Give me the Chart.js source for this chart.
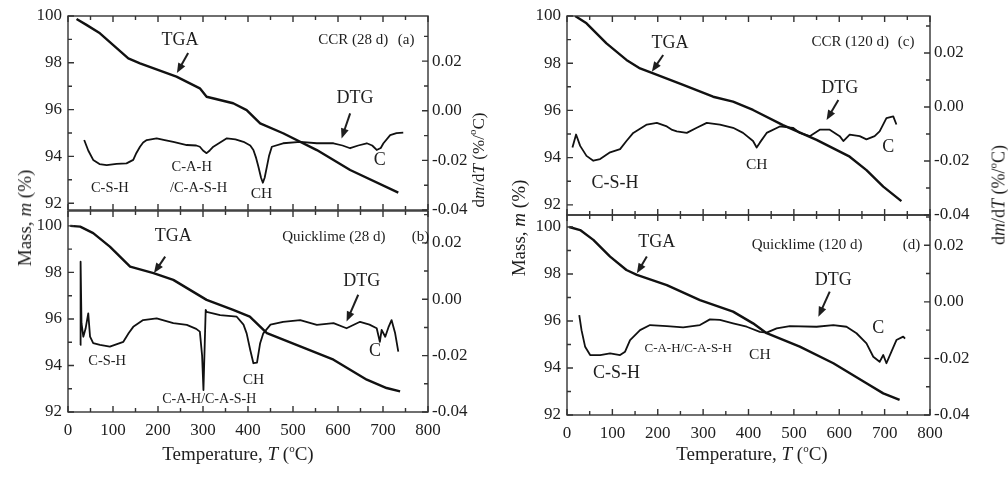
<!DOCTYPE html>
<html>
<head>
<meta charset="utf-8">
<script src="https://cdn.jsdelivr.net/npm/chart.js@4.4.0/dist/chart.umd.min.js"></script>
<style>
  body { margin: 0; background: #fff; }
  #wrap { position: relative; width: 1008px; height: 481px; overflow: hidden; font-family: 'Liberation Serif', serif; color: #1e1e1e; }
  canvas { position: absolute; }
  .ttl { position: absolute; white-space: nowrap; transform: translate(-50%, -50%); font-size: 19px; }
  .rot { transform: translate(-50%, -50%) rotate(-90deg); }
  sup { font-size: 11px; vertical-align: 8px; }
</style>
</head>
<body>
<div id="wrap">
  <canvas id="pa" width="480" height="214" style="left:0;top:0"></canvas>
  <canvas id="pb" width="480" height="276" style="left:0;top:205px"></canvas>
  <canvas id="pc" width="508" height="219" style="left:500px;top:0"></canvas>
  <canvas id="pd" width="508" height="271" style="left:500px;top:210px"></canvas>
  <div class="ttl rot" style="left:25px;top:218px">Mass, <i>m</i> (%)</div>
  <div class="ttl rot" style="left:519px;top:228px">Mass, <i>m</i> (%)</div>
  <div class="ttl rot" style="left:477px;top:160px;font-size:17px">d<i>m</i>/d<i>T</i> (%/<sup>o</sup>C)</div>
  <div class="ttl rot" style="left:998px;top:195px;font-size:18px">d<i>m</i>/d<i>T</i> (%/<sup>o</sup>C)</div>
  <div class="ttl" style="left:238px;top:453px">Temperature, <i>T</i> (<sup>o</sup>C)</div>
  <div class="ttl" style="left:752px;top:453px">Temperature, <i>T</i> (<sup>o</sup>C)</div>
</div>
<script>
// tick labels
const tempTicks = [0, 100, 200, 300, 400, 500, 600, 700, 800];
const massTicks = [92, 94, 96, 98, 100];
const dtgTicks = [-0.04, -0.02, 0.00, 0.02];

// (a) CCR 28 d
const tgaTempA = [19, 41, 71, 134, 160, 241, 293, 308, 367, 397, 427, 478, 553, 627, 734];
const tgaMassA = [99.87, 99.62, 99.26, 98.19, 97.98, 97.41, 96.91, 96.55, 96.27, 95.98, 95.41, 94.99, 94.27, 93.42, 92.45];
const dtgTempA = [36, 45, 56, 70, 86, 108, 130, 145, 152, 160, 167, 175, 197, 215, 234, 264, 285, 293, 300, 308, 315, 323, 353, 372, 390, 405, 412, 418, 423, 429, 433, 437, 442, 447, 453, 478, 516, 553, 590, 610, 627, 645, 664, 676, 686, 695, 701, 716, 730, 745];
const dtgRateA = [-0.0118, -0.016, -0.0198, -0.0215, -0.0219, -0.0214, -0.0212, -0.0198, -0.017, -0.0145, -0.0128, -0.0118, -0.0111, -0.0118, -0.0125, -0.0138, -0.014, -0.0145, -0.016, -0.0171, -0.016, -0.0145, -0.0111, -0.0115, -0.0125, -0.014, -0.0158, -0.019, -0.0225, -0.027, -0.029, -0.027, -0.0225, -0.018, -0.0145, -0.0131, -0.0125, -0.0131, -0.0131, -0.014, -0.0151, -0.014, -0.0131, -0.014, -0.0158, -0.015, -0.0131, -0.0098, -0.009, -0.0088];

// (b) Quicklime 28 d
const tgaTempB = [5, 27, 56, 93, 138, 190, 234, 308, 367, 404, 442, 516, 590, 664, 708, 738];
const tgaMassB = [100.0, 99.97, 99.69, 99.11, 98.25, 97.97, 97.68, 96.82, 96.39, 96.1, 95.39, 94.82, 94.25, 93.39, 93.03, 92.89];
const dtgTempB = [27, 28, 30, 34, 39, 45, 49, 56, 71, 93, 123, 135, 145, 167, 197, 234, 264, 285, 293, 298, 301, 304, 306, 308, 338, 375, 390, 397, 405, 412, 420, 427, 434, 450, 478, 516, 553, 590, 619, 649, 670, 686, 693, 697, 705, 712, 719, 727, 734];
const dtgRateB = [-0.0162, 0.0133, -0.0085, -0.0133, -0.0105, -0.005, -0.0133, -0.0156, -0.0162, -0.0168, -0.0151, -0.012, -0.0098, -0.0074, -0.0068, -0.0085, -0.0091, -0.0105, -0.0115, -0.02, -0.0322, -0.015, -0.0038, -0.0045, -0.0056, -0.0062, -0.009, -0.0121, -0.018, -0.0227, -0.0225, -0.0156, -0.0121, -0.009, -0.008, -0.0074, -0.0091, -0.0085, -0.0103, -0.008, -0.009, -0.0103, -0.0151, -0.0109, -0.0133, -0.01, -0.0074, -0.0121, -0.0186];

// (c) CCR 120 d
const tgaTempC = [18, 43, 87, 131, 161, 190, 256, 322, 366, 410, 476, 550, 623, 660, 697, 737];
const tgaMassC = [100.0, 99.69, 98.84, 98.14, 97.78, 97.57, 97.08, 96.58, 96.37, 96.02, 95.38, 94.75, 94.04, 93.47, 92.77, 92.16];
const dtgTempC = [12, 20, 29, 43, 58, 73, 95, 117, 131, 146, 176, 198, 220, 232, 242, 264, 286, 308, 337, 366, 388, 410, 418, 425, 440, 469, 498, 513, 535, 557, 579, 601, 609, 623, 645, 660, 678, 689, 704, 719, 726];
const dtgRateC = [-0.015, -0.0102, -0.0144, -0.0181, -0.0199, -0.0193, -0.0168, -0.0156, -0.0126, -0.0096, -0.0065, -0.0059, -0.0072, -0.0085, -0.009, -0.0096, -0.0077, -0.0059, -0.0065, -0.0077, -0.0096, -0.0126, -0.015, -0.0132, -0.0096, -0.0072, -0.0077, -0.0096, -0.0108, -0.0084, -0.0084, -0.0108, -0.0126, -0.0102, -0.0108, -0.012, -0.0108, -0.009, -0.0041, -0.0035, -0.0065];

// (d) Quicklime 120 d
const tgaTempD = [5, 29, 58, 95, 131, 154, 220, 293, 366, 410, 440, 513, 587, 660, 697, 733];
const tgaMassD = [100.0, 99.87, 99.45, 98.74, 98.17, 97.96, 97.53, 96.89, 96.4, 95.9, 95.48, 94.91, 94.2, 93.35, 92.92, 92.64];
const dtgTempD = [27, 32, 40, 51, 73, 95, 117, 128, 139, 161, 183, 220, 256, 293, 315, 337, 366, 396, 425, 440, 462, 491, 550, 587, 616, 638, 660, 675, 689, 697, 704, 715, 726, 741, 745];
const dtgRateD = [-0.0047, -0.01, -0.0159, -0.0188, -0.0188, -0.0182, -0.0188, -0.0176, -0.0135, -0.01, -0.0082, -0.0086, -0.009, -0.0082, -0.0062, -0.0064, -0.0076, -0.0088, -0.0106, -0.0109, -0.0094, -0.0086, -0.0088, -0.0082, -0.0088, -0.0111, -0.0147, -0.0194, -0.0212, -0.0188, -0.0217, -0.0176, -0.0135, -0.0123, -0.013];

const ink = '#1e1e1e';
const serif = "'Liberation Serif', serif";

function pairs(xs, ys) {
  return xs.map((x, i) => ({ x: x, y: ys[i] }));
}

// frame, inward ticks and the text/arrow notes
function decor(notes) {
  return {
    id: 'decor',
    afterDatasetsDraw(chart) {
      const { ctx, chartArea: a, scales } = chart;
      const x = scales.x, yl = scales.y, yr = scales.y2;
      ctx.save();
      ctx.strokeStyle = '#333';
      ctx.lineWidth = 1.4;
      ctx.strokeRect(a.left, a.top, a.right - a.left, a.bottom - a.top);
      ctx.beginPath();
      for (let v = 0; v <= 800; v += 50) {
        const p = x.getPixelForValue(v), len = v % 100 === 0 ? 6 : 4;
        ctx.moveTo(p, a.bottom); ctx.lineTo(p, a.bottom - len);
        ctx.moveTo(p, a.top); ctx.lineTo(p, a.top + len);
      }
      for (let v = Math.ceil(yl.min); v <= yl.max + 1e-6; v++) {
        const p = yl.getPixelForValue(v), len = v % 2 === 0 ? 6 : 4;
        ctx.moveTo(a.left, p); ctx.lineTo(a.left + len, p);
      }
      for (let k = Math.ceil(yr.min * 100 - 1e-6); k <= yr.max * 100 + 1e-6; k++) {
        const p = yr.getPixelForValue(k / 100), len = k % 2 === 0 ? 6 : 4;
        ctx.moveTo(a.right, p); ctx.lineTo(a.right - len, p);
      }
      ctx.stroke();

      ctx.fillStyle = ink;
      ctx.strokeStyle = ink;
      ctx.textBaseline = 'middle';
      notes.forEach(n => {
        if (n.arrow) {
          const x1 = x.getPixelForValue(n.arrow[0]), y1 = yl.getPixelForValue(n.arrow[1]);
          const x2 = x.getPixelForValue(n.arrow[2]), y2 = yl.getPixelForValue(n.arrow[3]);
          const ang = Math.atan2(y2 - y1, x2 - x1);
          ctx.lineWidth = 2;
          ctx.beginPath();
          ctx.moveTo(x1, y1);
          ctx.lineTo(x2 - 7 * Math.cos(ang), y2 - 7 * Math.sin(ang));
          ctx.stroke();
          ctx.beginPath();
          ctx.moveTo(x2, y2);
          ctx.lineTo(x2 - 10 * Math.cos(ang) + 4 * Math.sin(ang), y2 - 10 * Math.sin(ang) - 4 * Math.cos(ang));
          ctx.lineTo(x2 - 10 * Math.cos(ang) - 4 * Math.sin(ang), y2 - 10 * Math.sin(ang) + 4 * Math.cos(ang));
          ctx.closePath();
          ctx.fill();
        } else {
          ctx.font = (n.size || 18) + 'px ' + serif;
          ctx.textAlign = n.align || 'center';
          ctx.fillText(n.text, x.getPixelForValue(n.t), yl.getPixelForValue(n.m));
        }
      });
      ctx.restore();
    }
  };
}

// no extra room for half-labels at the ends; layout padding places the plot
function noPad(s) {
  s.paddingTop = 0;
  s.paddingBottom = 0;
}

function panel(id, o) {
  const tickFont = { family: serif, size: 17 };
  new Chart(document.getElementById(id), {
    type: 'line',
    data: {
      datasets: [
        { data: pairs(o.tgaT, o.tgaM), yAxisID: 'y', borderWidth: 2.4 },
        { data: pairs(o.dtgT, o.dtgR), yAxisID: 'y2', borderWidth: 1.8 }
      ]
    },
    options: {
      responsive: false,
      animation: false,
      events: [],
      layout: { padding: { top: o.padTop, bottom: o.padBottom, left: 0, right: 0 } },
      elements: {
        point: { radius: 0 },
        line: { borderColor: '#111', tension: 0, fill: false, borderJoinStyle: 'round' }
      },
      plugins: { legend: { display: false }, tooltip: { enabled: false } },
      scales: {
        x: {
          type: 'linear', min: 0, max: 800, display: o.showX,
          grid: { display: false, drawTicks: false }, border: { display: false },
          ticks: { font: tickFont, color: ink, padding: 8, maxRotation: 0 },
          afterBuildTicks: s => { s.ticks = tempTicks.map(v => ({ value: v })); },
          afterFit: s => { s.height = o.xHeight; s.paddingLeft = 0; s.paddingRight = 0; }
        },
        y: {
          type: 'linear', position: 'left', min: o.mMin, max: o.mMax,
          grid: { display: false, drawTicks: false }, border: { display: false },
          ticks: { font: tickFont, color: ink, padding: 6 },
          afterBuildTicks: s => { s.ticks = massTicks.filter(v => v >= s.min - 1e-6 && v <= s.max + 1e-6).map(v => ({ value: v })); },
          afterFit: s => { s.width = o.leftW; noPad(s); }
        },
        y2: {
          type: 'linear', position: 'right', min: o.rMin, max: o.rMax,
          grid: { display: false, drawTicks: false }, border: { display: false },
          ticks: { font: tickFont, color: ink, padding: 4, callback: v => v.toFixed(2) },
          afterBuildTicks: s => { s.ticks = dtgTicks.filter(v => v >= s.min - 1e-6 && v <= s.max + 1e-6).map(v => ({ value: v })); },
          afterFit: s => { s.width = o.rightW; noPad(s); }
        }
      }
    },
    plugins: [decor(o.notes)]
  });
}

panel('pa', {
  tgaT: tgaTempA, tgaM: tgaMassA, dtgT: dtgTempA, dtgR: dtgRateA,
  mMin: 91.71, mMax: 100, rMin: -0.04, rMax: 0.0382,
  padTop: 16, padBottom: 4, showX: false, xHeight: 0, leftW: 68, rightW: 52,
  notes: [
    { text: 'TGA', t: 249, m: 98.97 },
    { arrow: [267, 98.42, 242, 97.56] },
    { text: 'CCR (28 d)', t: 556, m: 98.97, size: 15, align: 'left' },
    { text: '(a)', t: 733, m: 98.97, size: 15, align: 'left' },
    { text: 'DTG', t: 638, m: 96.48 },
    { arrow: [627, 95.84, 608, 94.77] },
    { text: 'C', t: 693, m: 93.85 },
    { text: 'C-S-H', t: 93, m: 92.64, size: 14.5 },
    { text: 'C-A-H', t: 275, m: 93.56, size: 14.5 },
    { text: '/C-A-S-H', t: 290, m: 92.64, size: 14.5 },
    { text: 'CH', t: 430, m: 92.38, size: 15.5 }
  ]
});

panel('pb', {
  tgaT: tgaTempB, tgaM: tgaMassB, dtgT: dtgTempB, dtgR: dtgRateB,
  mMin: 92, mMax: 100.64, rMin: -0.04, rMax: 0.0313,
  padTop: 6, padBottom: 0, showX: true, xHeight: 69, leftW: 68, rightW: 52,
  notes: [
    { text: 'TGA', t: 234, m: 99.54 },
    { arrow: [216, 98.68, 191, 97.97] },
    { text: 'Quicklime (28 d)', t: 476, m: 99.54, size: 15, align: 'left' },
    { text: '(b)', t: 764, m: 99.54, size: 15, align: 'left' },
    { text: 'DTG', t: 653, m: 97.61 },
    { arrow: [645, 97.04, 619, 95.89] },
    { text: 'C', t: 682, m: 94.6 },
    { text: 'C-S-H', t: 87, m: 94.18, size: 14.5 },
    { text: 'CH', t: 412, m: 93.39, size: 15.5 },
    { text: 'C-A-H/C-A-S-H', t: 314, m: 92.56, size: 14 }
  ]
});

panel('pc', {
  tgaT: tgaTempC, tgaM: tgaMassC, dtgT: dtgTempC, dtgR: dtgRateC,
  mMin: 91.57, mMax: 100, rMin: -0.04, rMax: 0.0337,
  padTop: 16, padBottom: 4, showX: false, xHeight: 0, leftW: 67, rightW: 78,
  notes: [
    { text: 'TGA', t: 227, m: 98.84 },
    { arrow: [212, 98.35, 187, 97.64] },
    { text: 'CCR (120 d)', t: 539, m: 98.91, size: 15, align: 'left' },
    { text: '(c)', t: 729, m: 98.91, size: 15, align: 'left' },
    { text: 'DTG', t: 601, m: 96.94 },
    { arrow: [598, 96.44, 572, 95.59] },
    { text: 'C', t: 708, m: 94.46 },
    { text: 'C-S-H', t: 106, m: 92.91, size: 18 },
    { text: 'CH', t: 418, m: 93.69, size: 15.5 }
  ]
});

panel('pd', {
  tgaT: tgaTempD, tgaM: tgaMassD, dtgT: dtgTempD, dtgR: dtgRateD,
  mMin: 92, mMax: 100.51, rMin: -0.04, rMax: 0.0307,
  padTop: 5, padBottom: 0, showX: true, xHeight: 66, leftW: 67, rightW: 78,
  notes: [
    { text: 'TGA', t: 198, m: 99.37 },
    { arrow: [176, 98.74, 154, 98.03] },
    { text: 'Quicklime (120 d)', t: 407, m: 99.23, size: 15, align: 'left' },
    { text: '(d)', t: 740, m: 99.23, size: 15, align: 'left' },
    { text: 'DTG', t: 587, m: 97.74 },
    { arrow: [579, 97.25, 554, 96.18] },
    { text: 'C', t: 686, m: 95.69 },
    { text: 'C-S-H', t: 109, m: 93.77, size: 18 },
    { text: 'C-A-H/C-A-S-H', t: 267, m: 94.84, size: 13 },
    { text: 'CH', t: 425, m: 94.55, size: 15.5 }
  ]
});
</script>
</body>
</html>
